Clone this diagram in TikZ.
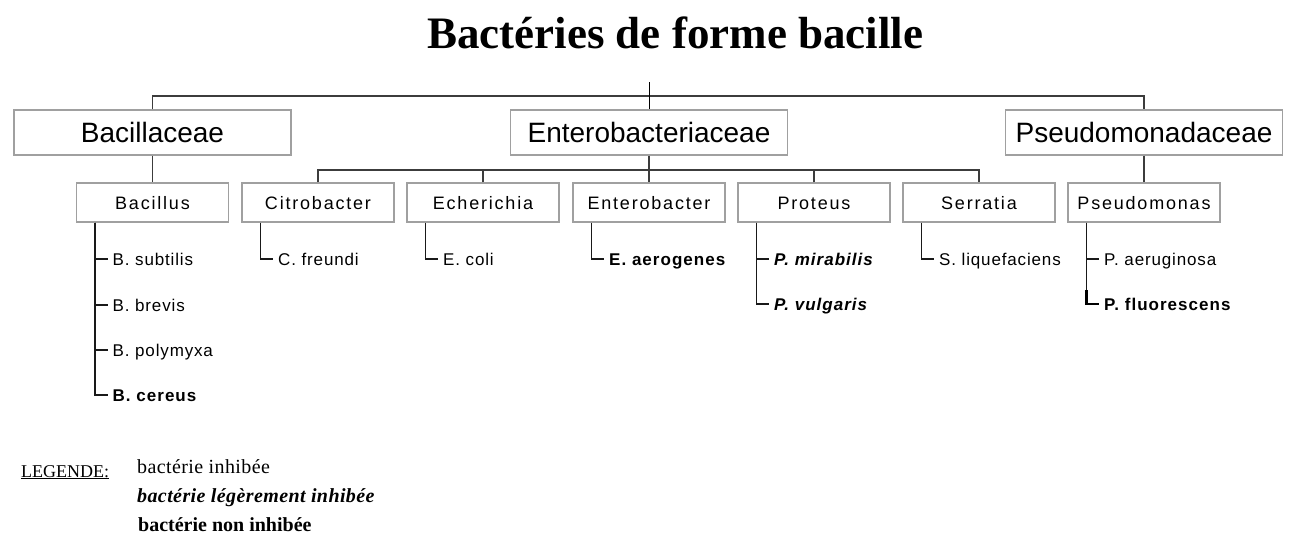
\documentclass[tikz,border=0pt]{standalone}
\usepackage{fontspec}
\setmainfont{Liberation Serif}
\setsansfont{Liberation Sans}
\newfontfamily\famS{Liberation Sans}
\newfontfamily\genS[LetterSpace=10]{Liberation Sans}
\newfontfamily\leafS[LetterSpace=5]{Liberation Sans}
\newfontfamily\leafB[LetterSpace=6]{Liberation Sans}
\newfontfamily\legS[LetterSpace=2]{Liberation Serif}
\definecolor{boxgray}{RGB}{160,160,160}
\definecolor{busgray}{RGB}{60,60,60}
\tikzset{
  fam/.style={draw=boxgray, line width=1.3pt, minimum width=277pt, minimum height=45pt,
    inner sep=0pt, text height=20pt, text depth=0pt, font=\famS\fontsize{28}{30}\selectfont},
  gen/.style={draw=boxgray, line width=1.3pt, minimum width=152pt, minimum height=39pt,
    inner sep=0pt, text height=13pt, text depth=0pt, font=\genS\fontsize{18}{20}\selectfont},
  leaf/.style={anchor=west, inner xsep=5pt, inner ysep=0pt, text height=12pt, text depth=0pt,
    font=\leafS\fontsize{17}{19}\selectfont},
  leafbold/.style={leaf, font=\leafB\bfseries\fontsize{17}{19}\selectfont},
  leafbi/.style={leaf, font=\leafB\bfseries\itshape\fontsize{17}{19}\selectfont},
  bus/.style={draw=busgray, line width=1.7pt},
  rootline/.style={draw=black, line width=1pt},
  twig/.style={draw=black!90, line width=1.4pt},
  twigbold/.style={draw=black, line width=2.4pt},
  legtxt/.style={anchor=base west, inner sep=0pt},
}
\begin{document}
\begin{tikzpicture}[x=1pt,y=-1pt]
\useasboundingbox (0,0) rectangle (1290,533);
\fill[white] (0,0) rectangle (1290,533);

% title
\node[anchor=base west, inner sep=0pt, font=\bfseries\fontsize{45}{50}\selectfont] (title) at (427,48) {Bactéries de forme bacille};

% families
\node[fam] (bacillaceae) at (152.5,132.5) {Bacillaceae};
\node[fam] (enterobacteriaceae) at (649,132.5) {Enterobacteriaceae};
\node[fam] (pseudomonadaceae) at (1144,132.5) {Pseudomonadaceae};

% genera
\node[gen] (bacillus) at (152.5,202.5) {Bacillus};
\node[gen] (citrobacter) at (318,202.5) {Citrobacter};
\node[gen] (echerichia) at (483,202.5) {Echerichia};
\node[gen] (enterobacter) at (649,202.5) {Enterobacter};
\node[gen] (proteus) at (814,202.5) {Proteus};
\node[gen] (serratia) at (979,202.5) {Serratia};
\node[gen] (pseudomonas) at (1144,202.5) {Pseudomonas};

% top connectors
\coordinate (root) at (649,82);
\coordinate (topbus) at (649,96);
\draw[bus] (bacillaceae.north) |- (topbus) -| (pseudomonadaceae.north);
\draw[rootline] (root) -- (enterobacteriaceae.north);
\draw[bus] (bacillaceae.south) -- (bacillus.north);
\draw[bus] (pseudomonadaceae.south) -- (pseudomonas.north);
\coordinate (ebus) at (649,170);
\draw[bus] (citrobacter.north) |- (ebus) -| (serratia.north);
\draw[bus] (enterobacteriaceae.south) -- (enterobacter.north);
\draw[bus] (echerichia.north) -- (echerichia.north |- ebus);
\draw[bus] (proteus.north) -- (proteus.north |- ebus);

% leaves
\node[leaf] (bsub) at (107.5,259) {B. subtilis};
\node[leaf] (bbre) at (107.5,305) {B. brevis};
\node[leaf] (bpol) at (107.5,350) {B. polymyxa};
\node[leafbold] (bcer) at (107.5,395) {B. cereus};
\node[leaf] (cfre) at (273,259) {C. freundi};
\node[leaf] (ecol) at (438,259) {E. coli};
\node[leafbold] (eaer) at (604,259) {E. aerogenes};
\node[leafbi] (pmir) at (769,259) {P. mirabilis};
\node[leafbi] (pvul) at (769,304) {P. vulgaris};
\node[leaf] (sliq) at (934,259) {S. liquefaciens};
\node[leaf] (paer) at (1099,259) {P. aeruginosa};
\node[leafbold] (pflu) at (1099,304) {P. fluorescens};

\coordinate (vb) at ([xshift=19pt]bacillus.south west);
\coordinate (vc) at ([xshift=19pt]citrobacter.south west);
\coordinate (ve) at ([xshift=19pt]echerichia.south west);
\coordinate (vn) at ([xshift=19pt]enterobacter.south west);
\coordinate (vp) at ([xshift=19pt]proteus.south west);
\coordinate (vs) at ([xshift=19pt]serratia.south west);
\coordinate (vu) at ([xshift=19pt]pseudomonas.south west);

\draw[twig] (vb) |- (bsub.west);
\draw[twig] (vb) |- (bbre.west);
\draw[twig] (vb) |- (bpol.west);
\draw[twig] (vb) |- (bcer.west);
\draw[twig] (vc) |- (cfre.west);
\draw[twig] (ve) |- (ecol.west);
\draw[twig] (vn) |- (eaer.west);
\draw[twig] (vp) |- (pmir.west);
\draw[twig] (vp) |- (pvul.west);
\draw[twig] (vs) |- (sliq.west);
\draw[twig] (vu) |- (paer.west);
\draw[twig] (vu) |- (pflu.west);
\draw[twigbold] ([yshift=14pt]vu |- pflu.west) |- (pflu.west);

% legend
\node[legtxt, font=\fontsize{18}{20}\selectfont] (legende) at (21,477) {\underline{LEGENDE:}};
\node[legtxt, font=\legS\fontsize{20}{22}\selectfont] (leg1) at (137,473) {bactérie inhibée};
\node[legtxt, font=\legS\bfseries\itshape\fontsize{20}{22}\selectfont] (leg2) at (137,502) {bactérie légèrement inhibée};
\node[legtxt, font=\bfseries\fontsize{20}{22}\selectfont] (leg3) at (138,531) {bactérie non inhibée};
\end{tikzpicture}
\end{document}
